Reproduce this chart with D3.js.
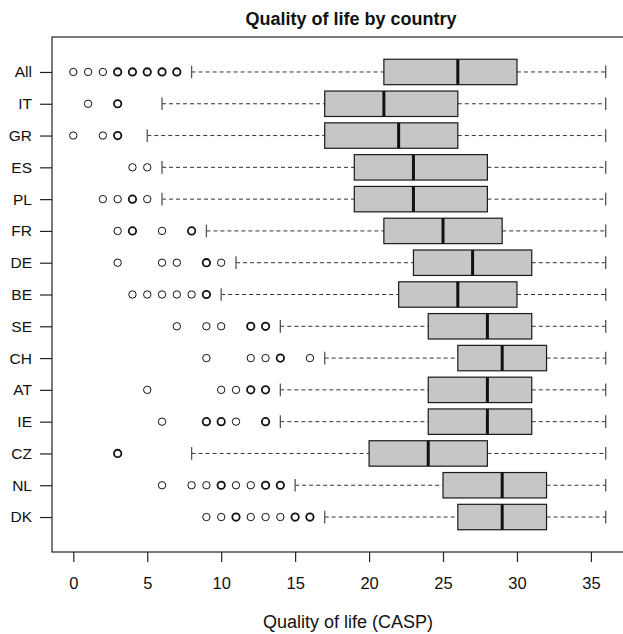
<!DOCTYPE html>
<html>
<head>
<meta charset="utf-8">
<script src="https://cdn.jsdelivr.net/npm/d3@7"></script>
<style>
  body { margin: 0; background: #fff; }
  svg { display: block; font-family: "Liberation Sans", Arial, Helvetica, sans-serif; }
</style>
</head>
<body>
<div id="chart"></div>
<script>
// Datos (de arriba a abajo)
const countries = ["All", "IT", "GR", "ES", "PL", "FR", "DE", "BE", "SE", "CH", "AT", "IE", "CZ", "NL", "DK"];
const q1 =        [21, 17, 17, 19, 19, 21, 23, 22, 24, 26, 24, 24, 20, 25, 26];
const medians =   [26, 21, 22, 23, 23, 25, 27, 26, 28, 29, 28, 28, 24, 29, 29];
const q3 =        [30, 26, 26, 28, 28, 29, 31, 30, 31, 32, 31, 31, 28, 32, 32];
const whiskerLow =  [8, 6, 5, 6, 6, 9, 11, 10, 14, 17, 14, 14, 8, 15, 17];
const whiskerHigh = [36, 36, 36, 36, 36, 36, 36, 36, 36, 36, 36, 36, 36, 36, 36];
// Valores atípicos (repetidos = puntos superpuestos, se ven más gruesos)
const outliers = [
  [0, 1, 2, 3, 3, 4, 4, 5, 5, 6, 6, 7, 7],
  [1, 3, 3],
  [0, 2, 3, 3],
  [4, 5],
  [2, 3, 4, 4, 5],
  [3, 4, 4, 6, 8, 8],
  [3, 6, 7, 9, 9, 10],
  [4, 5, 6, 7, 8, 9, 9],
  [7, 9, 10, 12, 12, 13, 13],
  [9, 12, 13, 14, 14, 16],
  [5, 10, 11, 12, 12, 13, 13],
  [6, 9, 9, 10, 10, 11, 13, 13],
  [3, 3],
  [6, 8, 9, 10, 10, 11, 12, 13, 13, 14, 14],
  [9, 10, 11, 11, 12, 13, 14, 15, 15, 16, 16]
];
const xTicks = [0, 5, 10, 15, 20, 25, 30, 35];

const width = 623, height = 634;
const plot = {left: 52, right: 627, top: 37, bottom: 552};

const svg = d3.select("#chart").append("svg")
  .attr("width", width)
  .attr("height", height);

const x = d3.scaleLinear().domain([-1.44, 37.44]).range([plot.left, plot.right]);
const n = countries.length;
const y = d3.scaleLinear().domain([-0.1, n + 1.1]).range([plot.bottom, plot.top]);
const pos = i => y(n - i);
const boxH = y(0) - y(0.8);

// Marco del gráfico
svg.append("rect")
  .attr("x", plot.left).attr("y", plot.top)
  .attr("width", plot.right - plot.left).attr("height", plot.bottom - plot.top)
  .attr("fill", "none").attr("stroke", "#222").attr("stroke-width", 1.2);

// Eje X
const xAxis = svg.append("g")
  .attr("transform", `translate(0,${plot.bottom})`)
  .call(d3.axisBottom(x).tickValues(xTicks).tickSize(10).tickPadding(15));
xAxis.select(".domain").remove();
xAxis.selectAll("line").attr("stroke", "#222").attr("stroke-width", 1.2);
xAxis.selectAll("text").attr("font-size", 16.5).attr("fill", "#111")
  .attr("font-family", "Liberation Sans, Arial, sans-serif");

// Eje Y
const yAxis = svg.append("g")
  .attr("transform", `translate(${plot.left},0)`)
  .call(d3.axisLeft(d3.scaleOrdinal().domain(countries).range(countries.map((c, i) => pos(i))))
    .tickSize(12).tickPadding(8));
yAxis.select(".domain").remove();
yAxis.selectAll("line").attr("stroke", "#222").attr("stroke-width", 1.2);
yAxis.selectAll("text").attr("font-size", 15.5).attr("fill", "#111")
  .attr("font-family", "Liberation Sans, Arial, sans-serif");

// Cajas
const rows = svg.selectAll(".row")
  .data(countries)
  .enter()
  .append("g")
  .attr("class", "row");

// Bigotes (líneas discontinuas)
rows.append("line")
  .attr("x1", (d, i) => x(whiskerLow[i])).attr("x2", (d, i) => x(q1[i]))
  .attr("y1", (d, i) => pos(i)).attr("y2", (d, i) => pos(i))
  .attr("stroke", "#333").attr("stroke-dasharray", "4,3").attr("stroke-width", 1);
rows.append("line")
  .attr("x1", (d, i) => x(q3[i])).attr("x2", (d, i) => x(whiskerHigh[i]))
  .attr("y1", (d, i) => pos(i)).attr("y2", (d, i) => pos(i))
  .attr("stroke", "#333").attr("stroke-dasharray", "4,3").attr("stroke-width", 1);

// Remates de los bigotes
[whiskerLow, whiskerHigh].forEach(arr => {
  rows.append("line")
    .attr("x1", (d, i) => x(arr[i])).attr("x2", (d, i) => x(arr[i]))
    .attr("y1", (d, i) => pos(i) - boxH / 4).attr("y2", (d, i) => pos(i) + boxH / 4)
    .attr("stroke", "#555").attr("stroke-width", 1.3);
});

rows.append("rect")
  .attr("x", (d, i) => x(q1[i]))
  .attr("y", (d, i) => pos(i) - boxH / 2)
  .attr("width", (d, i) => x(q3[i]) - x(q1[i]))
  .attr("height", boxH)
  .attr("fill", "#c5c6c5")
  .attr("stroke", "#1a1a1a")
  .attr("stroke-width", 1.2);

rows.append("line")
  .attr("x1", (d, i) => x(medians[i])).attr("x2", (d, i) => x(medians[i]))
  .attr("y1", (d, i) => pos(i) - boxH / 2).attr("y2", (d, i) => pos(i) + boxH / 2)
  .attr("stroke", "#111").attr("stroke-width", 3);

// Puntos atípicos
rows.each(function(d, i) {
  const counts = d3.rollups(outliers[i], v => v.length, v => v);
  d3.select(this).selectAll("circle")
    .data(counts)
    .enter()
    .append("circle")
    .attr("cx", c => x(c[0]))
    .attr("cy", pos(i))
    .attr("r", 3.7)
    .attr("fill", "none")
    .attr("stroke", "#111")
    .attr("stroke-width", c => c[1] > 1 ? 1.8 : 1);
});

// Títulos
svg.append("text")
  .attr("x", 351).attr("y", 25)
  .attr("text-anchor", "middle")
  .attr("font-size", 18).attr("font-weight", "bold")
  .attr("fill", "#111")
  .text("Quality of life by country");

svg.append("text")
  .attr("x", 348).attr("y", 628)
  .attr("text-anchor", "middle")
  .attr("font-size", 18)
  .attr("fill", "#111")
  .text("Quality of life (CASP)");
</script>
</body>
</html>
